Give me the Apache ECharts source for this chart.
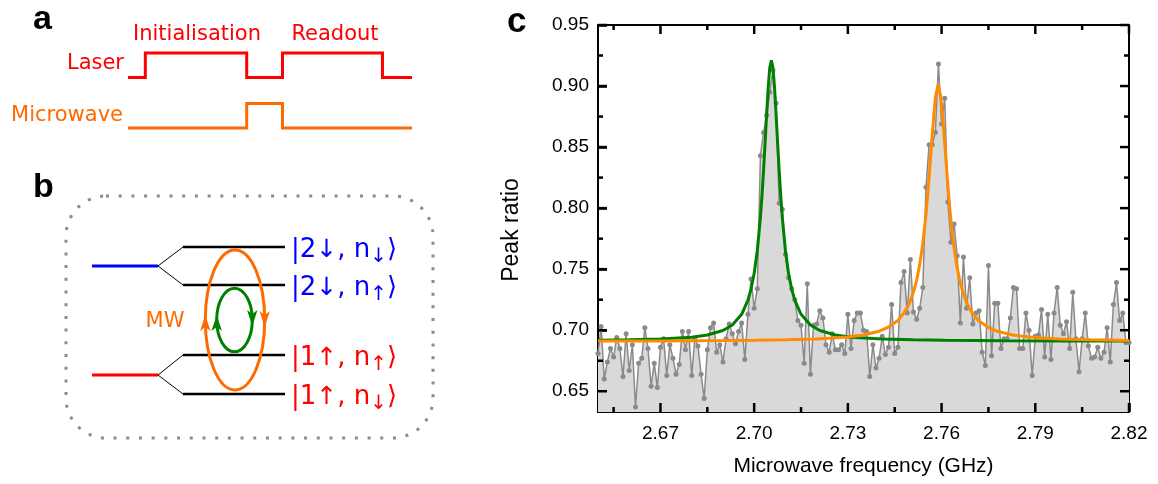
<!DOCTYPE html>
<html>
<head>
<meta charset="utf-8">
<script src="https://cdn.jsdelivr.net/npm/echarts@6/dist/echarts.min.js"></script>
<style>
  html, body { margin: 0; padding: 0; background: #ffffff; }
  #chart { width: 1158px; height: 484px; }
</style>
</head>
<body>
<div id="chart"></div>
<script>
// ---- Frequency sweep (GHz) ----
const FREQ_START = 2.650;
const FREQ_STEP = 0.001;

// Measured peak ratio, one value per sweep step (2.650 ... 2.820 GHz)
const peakRatio = [
  0.681, 0.703, 0.660, 0.674, 0.685, 0.678, 0.694, 0.685, 0.662, 0.697,
  0.667, 0.688, 0.637, 0.673, 0.677, 0.702, 0.685, 0.654, 0.673, 0.653,
  0.686, 0.693, 0.663, 0.688, 0.677, 0.664, 0.672, 0.699, 0.684, 0.699,
  0.663, 0.693, 0.687, 0.664, 0.644, 0.684, 0.702, 0.706, 0.682, 0.688,
  0.674, 0.693, 0.705, 0.697, 0.689, 0.699, 0.706, 0.676, 0.713, 0.742,
  0.718, 0.734, 0.843, 0.862, 0.876, 0.895, 0.913, 0.886, 0.804, 0.799,
  0.762, 0.743, 0.734, 0.725, 0.708, 0.704, 0.673, 0.738, 0.664, 0.704,
  0.705, 0.716, 0.710, 0.688, 0.682, 0.697, 0.684, 0.684, 0.688, 0.681,
  0.713, 0.685, 0.708, 0.714, 0.714, 0.700, 0.699, 0.662, 0.688, 0.669,
  0.677, 0.695, 0.680, 0.686, 0.721, 0.681, 0.686, 0.739, 0.748, 0.714,
  0.758, 0.715, 0.709, 0.718, 0.735, 0.817, 0.852, 0.852, 0.862, 0.918,
  0.869, 0.890, 0.805, 0.772, 0.787, 0.761, 0.706, 0.760, 0.718, 0.743,
  0.705, 0.714, 0.716, 0.682, 0.671, 0.753, 0.679, 0.722, 0.722, 0.685,
  0.693, 0.693, 0.710, 0.735, 0.734, 0.685, 0.685, 0.714, 0.700, 0.663,
  0.695, 0.696, 0.717, 0.678, 0.713, 0.676, 0.714, 0.735, 0.704, 0.697,
  0.707, 0.685, 0.731, 0.693, 0.666, 0.693, 0.714, 0.687, 0.677, 0.678,
  0.686, 0.677, 0.682, 0.702, 0.674, 0.721, 0.739, 0.708, 0.714, 0.690,
  0.690
];

// Lorentzian fit of the lower transition, [GHz, ratio]
const greenFit = [
  [2.650, 0.6917], [2.660, 0.6921], [2.670, 0.6927], [2.680, 0.6943],
  [2.685, 0.6961], [2.690, 0.6998], [2.693, 0.7043], [2.696, 0.7130],
  [2.698, 0.7246], [2.699, 0.7337], [2.700, 0.7466], [2.701, 0.7653],
  [2.702, 0.7925], [2.7025, 0.8102], [2.703, 0.8308], [2.7035, 0.8537],
  [2.704, 0.8776], [2.7045, 0.8994], [2.705, 0.9152], [2.7055, 0.9210],
  [2.706, 0.9152], [2.7065, 0.8994], [2.707, 0.8776], [2.7075, 0.8537],
  [2.708, 0.8308], [2.7085, 0.8102], [2.709, 0.7925], [2.710, 0.7653],
  [2.711, 0.7466], [2.712, 0.7337], [2.713, 0.7246], [2.715, 0.7130],
  [2.718, 0.7043], [2.721, 0.6998], [2.726, 0.6961], [2.731, 0.6943],
  [2.741, 0.6927], [2.751, 0.6921], [2.761, 0.6917], [2.780, 0.6914],
  [2.800, 0.6912], [2.820, 0.6911]
];

// Lorentzian fit of the upper transition, [GHz, ratio]
const orangeFit = [
  [2.650, 0.6911], [2.670, 0.6912], [2.690, 0.6915], [2.700, 0.6917],
  [2.710, 0.6921], [2.720, 0.6928], [2.730, 0.6945], [2.735, 0.6961],
  [2.740, 0.6992], [2.743, 0.7025], [2.746, 0.7080], [2.748, 0.7142],
  [2.749, 0.7185], [2.750, 0.7240], [2.751, 0.7312], [2.752, 0.7408],
  [2.753, 0.7537], [2.754, 0.7712], [2.755, 0.7947], [2.756, 0.8252],
  [2.757, 0.8601], [2.758, 0.8905], [2.7589, 0.9014], [2.7598, 0.8905],
  [2.7608, 0.8601], [2.7618, 0.8252], [2.7628, 0.7947], [2.7638, 0.7712],
  [2.7648, 0.7537], [2.7658, 0.7408], [2.7668, 0.7312], [2.7678, 0.7240],
  [2.7688, 0.7185], [2.7698, 0.7142], [2.7718, 0.7080], [2.7748, 0.7025],
  [2.7778, 0.6992], [2.7828, 0.6961], [2.7878, 0.6945], [2.7978, 0.6928],
  [2.8078, 0.6921], [2.8200, 0.6916]
];

// Axis ticks
const xMajorTicks = [2.67, 2.70, 2.73, 2.76, 2.79, 2.82];
const xMinorTicks = [2.655, 2.685, 2.715, 2.745, 2.775, 2.805];
const yMajorTicks = [0.65, 0.70, 0.75, 0.80, 0.85, 0.90, 0.95];
const yMinorTicks = [0.675, 0.725, 0.775, 0.825, 0.875, 0.925];

// Pulse sequence: [time (a.u.), level]
const laserPulse = [[0, 2.05], [6.1, 2.05], [6.1, 3.05], [41.8, 3.05], [41.8, 2.05],
                    [54.4, 2.05], [54.4, 3.05], [89.6, 3.05], [89.6, 2.05], [100, 2.05]];
const microwavePulse = [[0, 0], [41.8, 0], [41.8, 1], [54.4, 1], [54.4, 0], [100, 0]];

// ---- Styles ----
const SANS = '"Liberation Sans", Arial, sans-serif';
const DEJA = '"DejaVu Sans", Verdana, sans-serif';
const RED = '#ff0000';
const BLUE = '#0000ff';
const MW_ORANGE = '#ff6a00';
const FIT_ORANGE = '#ff8c00';
const GREEN = '#008000';
const GREY = '#8a8a8a';
const MAJOR_LEN = 9, MINOR_LEN = 5, TICK_W = 2.5;

const measured = peakRatio.map((v, i) => [+(FREQ_START + i * FREQ_STEP).toFixed(3), v]);

const X_MIN = 2.65, X_MAX = 2.82, Y_MIN = 0.633, Y_MAX = 0.95;

function frameAxis(kind, position, opts) {
  const isX = kind === 'x';
  const base = {
    type: 'value',
    gridIndex: 0,
    position: position,
    min: isX ? X_MIN : Y_MIN,
    max: isX ? X_MAX : Y_MAX,
    splitLine: { show: false },
    axisLine: { show: true, onZero: false, lineStyle: { color: '#000', width: 2 } },
    axisTick: { show: false },
    axisLabel: { show: false }
  };
  return Object.assign(base, opts || {});
}

const xAxes = [
  frameAxis('x', 'bottom', {
    axisTick: { show: true, inside: true, length: MAJOR_LEN, customValues: xMajorTicks,
                lineStyle: { color: '#000', width: TICK_W } },
    axisLabel: { show: true, customValues: xMajorTicks, margin: 12,
                 formatter: v => v.toFixed(2), fontSize: 19, color: '#000', fontFamily: SANS },
    name: 'Microwave frequency (GHz)', nameLocation: 'middle', nameGap: 44,
    nameTextStyle: { fontSize: 21, color: '#000', fontFamily: SANS }
  }),
  frameAxis('x', 'top'),
  // pulse-sequence panel
  { type: 'value', gridIndex: 1, min: 0, max: 100, show: false }
];

const yAxes = [
  frameAxis('y', 'left', {
    axisTick: { show: true, inside: true, length: MAJOR_LEN, customValues: yMajorTicks,
                lineStyle: { color: '#000', width: TICK_W } },
    axisLabel: { show: true, customValues: yMajorTicks, margin: 9,
                 formatter: v => v.toFixed(2), fontSize: 19, color: '#000', fontFamily: SANS }
  }),
  frameAxis('y', 'right'),
  { type: 'value', gridIndex: 1, min: 0, max: 3.05, show: false }
];

// ---- Energy-level schematic (panel b) ----
function arrowHead(x, y, dir, color) {
  const w = 10.5, L = 16, n = 4, s = dir === 'up' ? 1 : -1;
  return {
    type: 'polygon', z: 20,
    shape: { points: [[x, y], [x - w / 2, y + s * L], [x, y + s * (L - n)], [x + w / 2, y + s * L]] },
    style: { fill: color, stroke: null }
  };
}

function ket(x, y, color, lvl, spin, sub) {
  return {
    type: 'text', x: x, y: y, z: 20,
    style: {
      text: '{m||' + lvl + '}{a|' + spin + '}{m|, n}{s|' + sub + '}{m|\u27E9}',
      align: 'left', verticalAlign: 'middle',
      rich: {
        m: { fontSize: 26, fontFamily: DEJA, fill: color, lineHeight: 34 },
        a: { fontSize: 25, fontFamily: DEJA, fill: color, lineHeight: 34 },
        s: { fontSize: 20, fontFamily: DEJA, fill: color, lineHeight: 22, verticalAlign: 'bottom' }
      }
    }
  };
}

function hline(x1, x2, y, color, w) {
  return { type: 'line', z: 10, shape: { x1: x1, y1: y, x2: x2, y2: y },
           style: { stroke: color, lineWidth: w } };
}
function seg(x1, y1, x2, y2, color, w) {
  return { type: 'line', z: 10, shape: { x1: x1, y1: y1, x2: x2, y2: y2 },
           style: { stroke: color || '#000', lineWidth: w || 1 } };
}
function label(text, x, y, color, size, align, font, weight, rotation) {
  return { type: 'text', x: x, y: y, z: 20, rotation: rotation || 0,
           style: { text: text, fill: color, fontSize: size, fontFamily: font || DEJA,
                    fontWeight: weight || 'normal', align: align || 'center', verticalAlign: 'middle' } };
}

const graphics = [
  // panel letters
  label('a', 33, 20, '#000', 34, 'left', SANS, 'bold'),
  label('b', 33, 188, '#000', 34, 'left', SANS, 'bold'),
  label('c', 507, 22, '#000', 35, 'left', SANS, 'bold'),

  // y-axis title of panel c
  label('Peak ratio', 512, 230, '#000', 23, 'center', SANS, 'normal', Math.PI / 2),

  // panel a labels
  label('Initialisation', 197, 35, RED, 21),
  label('Readout', 335, 35, RED, 21),
  label('Laser', 124, 64, RED, 21, 'right'),
  label('Microwave', 123, 116, MW_ORANGE, 21, 'right'),

  // panel b frame
  { type: 'rect', z: 5, shape: { x: 66, y: 196, width: 367, height: 242, r: 40 },
    style: { fill: null, stroke: '#8c8c8c', lineWidth: 3, lineDash: [3, 9.7], lineCap: 'butt' } },

  // electronic levels and their splitting
  hline(92, 158, 266, BLUE, 3),
  hline(92, 158, 375, RED, 3),
  seg(158, 266, 183, 247), seg(158, 266, 183, 285),
  seg(158, 375, 183, 355), seg(158, 375, 183, 394),
  hline(183, 285, 247, '#000', 2.5),
  hline(183, 285, 285, '#000', 2.5),
  hline(183, 285, 355, '#000', 2.5),
  hline(183, 285, 394, '#000', 2.5),

  // driven transitions
  { type: 'ellipse', z: 15, shape: { cx: 235, cy: 320, rx: 29.7, ry: 70 },
    style: { fill: null, stroke: MW_ORANGE, lineWidth: 3 } },
  { type: 'ellipse', z: 15, shape: { cx: 234.5, cy: 320, rx: 17.8, ry: 31.7 },
    style: { fill: null, stroke: GREEN, lineWidth: 3 } },
  arrowHead(205.3, 315, 'up', MW_ORANGE),
  arrowHead(264.7, 327, 'down', MW_ORANGE),
  arrowHead(216.7, 315, 'up', GREEN),
  arrowHead(252.3, 326, 'down', GREEN),
  label('MW', 165, 322, MW_ORANGE, 21),

  // state labels
  ket(291, 250, BLUE, '2', '\u2193', '\u2193'),
  ket(291, 288, BLUE, '2', '\u2193', '\u2191'),
  ket(291, 358, RED, '1', '\u2191', '\u2191'),
  ket(291, 397, RED, '1', '\u2191', '\u2193')
];

const chart = echarts.init(document.getElementById('chart'), null, { renderer: 'canvas' });
chart.setOption({
  animation: false,
  backgroundColor: '#ffffff',
  grid: [
    { left: 598, top: 25, width: 531, height: 387, containLabel: false },
    { left: 128, top: 53, width: 284, height: 75, containLabel: false }
  ],
  xAxis: xAxes,
  yAxis: yAxes,
  graphic: graphics,
  series: [
    {
      name: 'measured', type: 'line', xAxisIndex: 0, yAxisIndex: 0, data: measured,
      symbol: 'circle', symbolSize: 5, showSymbol: true,
      itemStyle: { color: GREY }, lineStyle: { color: GREY, width: 1.5 },
      areaStyle: { color: '#d9d9d9', opacity: 1, origin: 'start' }, z: 2
    },
    {
      name: 'fit 1', type: 'line', xAxisIndex: 0, yAxisIndex: 0, data: greenFit,
      showSymbol: false, symbol: 'none', lineStyle: { color: GREEN, width: 3 }, z: 3
    },
    {
      name: 'fit 2', type: 'line', xAxisIndex: 0, yAxisIndex: 0, data: orangeFit,
      showSymbol: false, symbol: 'none', lineStyle: { color: FIT_ORANGE, width: 3 }, z: 4
    },
    {
      name: 'Laser', type: 'line', xAxisIndex: 2, yAxisIndex: 2, data: laserPulse,
      symbol: 'none', clip: false, lineStyle: { color: RED, width: 3, join: 'miter', cap: 'butt' }
    },
    {
      name: 'Microwave', type: 'line', xAxisIndex: 2, yAxisIndex: 2, data: microwavePulse,
      symbol: 'none', clip: false, lineStyle: { color: MW_ORANGE, width: 3, join: 'miter', cap: 'butt' }
    }
  ]
});

// Inward tick marks on all four sides of the frame, positioned through the axis scales
const tickMarks = [];
const toPx = p => chart.convertToPixel({ xAxisIndex: 0, yAxisIndex: 0 }, p);
const lo = toPx([X_MIN, Y_MIN]);
const hi = toPx([X_MAX, Y_MAX]);
function addXTicks(vals, len) {
  vals.forEach(v => {
    const x = toPx([v, Y_MAX])[0];
    tickMarks.push(seg(x, lo[1], x, lo[1] - len, '#000', TICK_W), seg(x, hi[1], x, hi[1] + len, '#000', TICK_W));
  });
}
function addYTicks(vals, len) {
  vals.forEach(v => {
    const y = toPx([X_MIN, v])[1];
    tickMarks.push(seg(lo[0], y, lo[0] + len, y, '#000', TICK_W), seg(hi[0], y, hi[0] - len, y, '#000', TICK_W));
  });
}
addXTicks(xMajorTicks, MAJOR_LEN);
addXTicks(xMinorTicks, MINOR_LEN);
addYTicks(yMajorTicks, MAJOR_LEN);
addYTicks(yMinorTicks, MINOR_LEN);
tickMarks.forEach(t => { t.z = 50; });
chart.setOption({ graphic: graphics.concat(tickMarks) });
</script>
</body>
</html>
